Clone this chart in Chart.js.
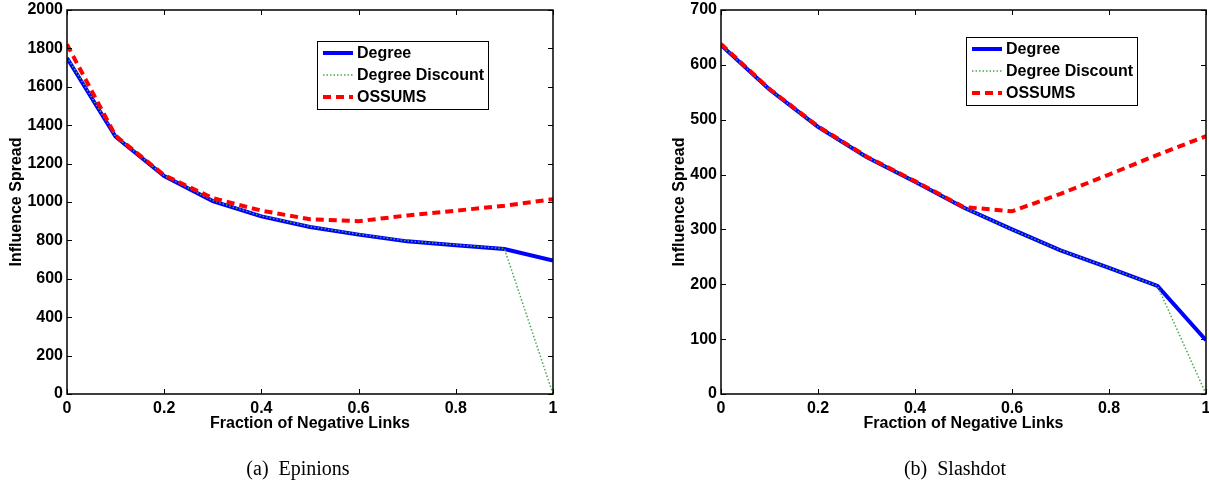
<!DOCTYPE html>
<html>
<head>
<meta charset="utf-8">
<script src="https://cdn.jsdelivr.net/npm/chart.js@4/dist/chart.umd.min.js"></script>
<style>
  body { margin: 0; background: #fff; width: 1209px; height: 485px; position: relative; overflow: hidden; }
  .panel { position: absolute; top: 0; width: 604px; height: 485px; }
  .cap { position: absolute; top: 457px; width: 300px; text-align: center; font: 20px "Liberation Serif", "Times New Roman", serif; color: #000; white-space: pre; }
</style>
</head>
<body>
<div class="panel" style="left:0"><canvas id="epinions" width="604" height="485"></canvas></div>
<div class="panel" style="left:605px"><canvas id="slashdot" width="604" height="485"></canvas></div>
<div class="cap" style="left:148px">(a)  Epinions</div>
<div class="cap" style="left:805px">(b)  Slashdot</div>
<script>
// fraction of negative links on the x axis
const fractions = [0, 0.1, 0.2, 0.3, 0.4, 0.5, 0.6, 0.7, 0.8, 0.9, 1];

// Epinions
const epinionsDegree   = [1750, 1340, 1135, 1005, 925, 870, 830, 795, 775, 755, 695];
const epinionsDiscount = [1755, 1342, 1137, 1007, 927, 872, 832, 797, 777, 757, 0];
const epinionsOssums   = [1820, 1345, 1140, 1020, 955, 910, 900, 930, 955, 980, 1015];

// Slashdot
const slashdotDegree   = [636, 555, 487, 432, 387, 340, 300, 262, 230, 197, 98];
const slashdotDiscount = [636, 555, 487, 432, 387, 340, 300, 262, 230, 197, 0];
const slashdotOssums   = [638, 556, 488, 433, 388, 341, 333, 365, 400, 436, 470];

const seriesNames = ['Degree', 'Degree Discount', 'OSSUMS'];

const FONT = '"Liberation Sans", Arial, Helvetica, sans-serif';

function pts(ys) {
  return fractions.map((x, i) => ({ x: x, y: ys[i] }));
}

// MATLAB-like box with inward ticks, plus the legend inside the plot
const frameAndLegend = {
  id: 'frameAndLegend',
  afterDatasetsDraw(chart, args, opts) {
    const { ctx, chartArea: a, scales } = chart;
    ctx.save();
    ctx.strokeStyle = '#000';
    ctx.lineWidth = 1;
    ctx.beginPath();
    scales.x.ticks.forEach(t => {
      const px = Math.round(scales.x.getPixelForValue(t.value)) + 0.5;
      ctx.moveTo(px, a.bottom); ctx.lineTo(px, a.bottom - 5);
      ctx.moveTo(px, a.top); ctx.lineTo(px, a.top + 5);
    });
    scales.y.ticks.forEach(t => {
      const py = Math.round(scales.y.getPixelForValue(t.value)) + 0.5;
      ctx.moveTo(a.left, py); ctx.lineTo(a.left + 5, py);
      ctx.moveTo(a.right, py); ctx.lineTo(a.right - 5, py);
    });
    ctx.stroke();
    ctx.lineWidth = 1.5;
    ctx.strokeRect(a.left, a.top, a.right - a.left, a.bottom - a.top);

    // legend
    const lx = a.left + opts.x, ly = a.top + opts.y;
    ctx.fillStyle = '#fff';
    ctx.fillRect(lx, ly, opts.w, opts.h);
    ctx.lineWidth = 1;
    ctx.strokeRect(lx + 0.5, ly + 0.5, opts.w, opts.h);
    ctx.font = 'bold 16px ' + FONT;
    ctx.textBaseline = 'middle';
    ctx.fillStyle = '#000';
    chart.data.datasets.forEach((ds, i) => {
      const yy = ly + 12 + i * 22;
      ctx.save();
      ctx.strokeStyle = ds.borderColor;
      ctx.lineWidth = ds.borderWidth;
      ctx.setLineDash(ds.borderDash || []);
      ctx.beginPath();
      ctx.moveTo(lx + 6, yy); ctx.lineTo(lx + 36, yy);
      ctx.stroke();
      ctx.restore();
      ctx.fillText(ds.label, lx + 40, yy + 1);
    });
    ctx.restore();
  }
};

function makeChart(id, degree, discount, ossums, yMax, yStep, g) {
  return new Chart(document.getElementById(id), {
    type: 'line',
    data: {
      datasets: [
        { label: seriesNames[0], data: pts(degree), borderColor: '#0000ff', borderWidth: 4, order: 2 },
        { label: seriesNames[1], data: pts(discount), borderColor: '#49a849', borderWidth: 1.5, borderDash: [1.5, 2], order: 1 },
        { label: seriesNames[2], data: pts(ossums), borderColor: '#ff0000', borderWidth: 4, borderDash: [8, 5], order: 0 }
      ]
    },
    options: {
      responsive: false,
      animation: false,
      events: [],
      elements: { point: { radius: 0 }, line: { tension: 0, borderCapStyle: 'butt' } },
      layout: { padding: { left: 0, top: 10, right: g.right, bottom: 0 } },
      plugins: {
        legend: { display: false },
        tooltip: { enabled: false },
        frameAndLegend: g.legend
      },
      scales: {
        x: {
          type: 'linear', min: 0, max: 1,
          grid: { display: false, drawTicks: false }, border: { display: false },
          ticks: {
            stepSize: 0.2, padding: 5, color: '#000',
            font: { family: FONT, size: 16, weight: 'bold' },
            maxRotation: 0,
            callback: v => String(Math.round(v * 10) / 10)
          },
          title: {
            display: true, text: 'Fraction of Negative Links', color: '#000',
            font: { family: FONT, size: 16, weight: 'bold' },
            padding: { top: 0, bottom: 52 }
          },
          afterFit: s => { s.height = 91; s.paddingLeft = 0; s.paddingRight = 0; }
        },
        y: {
          min: 0, max: yMax,
          grid: { display: false, drawTicks: false }, border: { display: false },
          ticks: {
            stepSize: yStep, padding: 4, color: '#000',
            font: { family: FONT, size: 16, weight: 'bold' },
            callback: v => String(v)
          },
          title: {
            display: true, text: 'Influence Spread', color: '#000',
            font: { family: FONT, size: 16, weight: 'bold' },
            padding: { top: g.titlePad, bottom: 0 }
          },
          afterFit: s => { s.width = g.yWidth; s.paddingTop = 0; s.paddingBottom = 0; }
        }
      }
    },
    plugins: [frameAndLegend]
  });
}

makeChart('epinions', epinionsDegree, epinionsDiscount, epinionsOssums, 2000, 200,
  { right: 51, yWidth: 67, titlePad: 7, legend: { x: 250, y: 31, w: 171, h: 68 } });
makeChart('slashdot', slashdotDegree, slashdotDiscount, slashdotOssums, 700, 100,
  { right: 3, yWidth: 116, titlePad: 65, legend: { x: 245, y: 27, w: 171, h: 68 } });
</script>
</body>
</html>
